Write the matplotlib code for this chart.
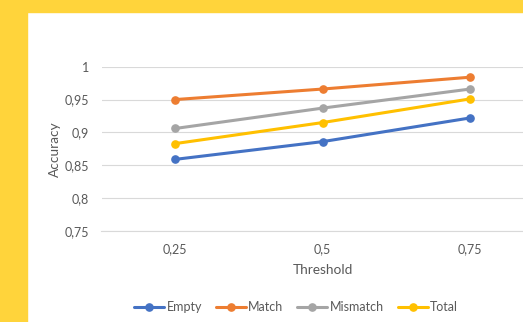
import matplotlib.pyplot as plt
from matplotlib.patches import Rectangle

thresholds = ['0,25', '0,5', '0,75']
empty = [0.859, 0.886, 0.922]
match = [0.950, 0.966, 0.984]
mismatch = [0.906, 0.937, 0.966]
total = [0.883, 0.915, 0.951]

y_ticks = [0.75, 0.8, 0.85, 0.9, 0.95, 1.0]
y_tick_labels = ['0,75', '0,8', '0,85', '0,9', '0,95', '1']

series = [('Empty', empty, '#4472C4'),
          ('Match', match, '#ED7D31'),
          ('Mismatch', mismatch, '#A5A5A5'),
          ('Total', total, '#FFC000')]

plt.rcParams['font.family'] = ['Lato', 'DejaVu Sans']
text_color = '#595959'
W, H = 523, 322

fig = plt.figure(figsize=(W / 100, H / 100), dpi=100)

# yellow frame on top and left
yellow = '#FFD43B'
fig.patches.append(Rectangle((0, 1 - 11.5 / H), 1, 11.5 / H, transform=fig.transFigure,
                             color=yellow, zorder=0))
fig.patches.append(Rectangle((0, 0), 26.5 / W, 1, transform=fig.transFigure,
                             color=yellow, zorder=0))

ax = fig.add_axes([101.5 / W, 1 - 231 / H, 442.25 / W, 164.3 / H])
x = range(len(thresholds))
for name, vals, col in series:
    ax.plot(x, vals, color=col, lw=2.2, marker='o', markersize=5.2, label=name,
            solid_capstyle='round', zorder=3)

ax.set_xlim(-0.5, len(thresholds) - 0.5)
ax.set_ylim(0.75, 1.0)
ax.set_xticks(list(x))
ax.set_xticklabels(thresholds)
ax.set_yticks(y_ticks)
ax.set_yticklabels(y_tick_labels)
ax.tick_params(length=0, labelsize=9, labelcolor=text_color, pad=9)
ax.grid(axis='y', color='#D9D9D9', lw=0.8)
ax.set_axisbelow(True)
for s in ['top', 'right', 'left']:
    ax.spines[s].set_visible(False)
ax.spines['bottom'].set_color('#D9D9D9')
ax.spines['bottom'].set_linewidth(0.8)

fig.text(55 / W, 1 - 149 / H, 'Accuracy', rotation=90, ha='center', va='center',
         fontsize=9.8, color=text_color)
fig.text(323 / W, 1 - 270 / H, 'Threshold', ha='center', va='center',
         fontsize=9.8, color=text_color)

fig.legend(loc='center', bbox_to_anchor=(296 / W, 1 - 307 / H), ncol=4, frameon=False,
           fontsize=9, labelcolor=text_color, handlelength=2.4, handletextpad=0.2,
           columnspacing=1.1)

fig.savefig('out.png', dpi=100)
